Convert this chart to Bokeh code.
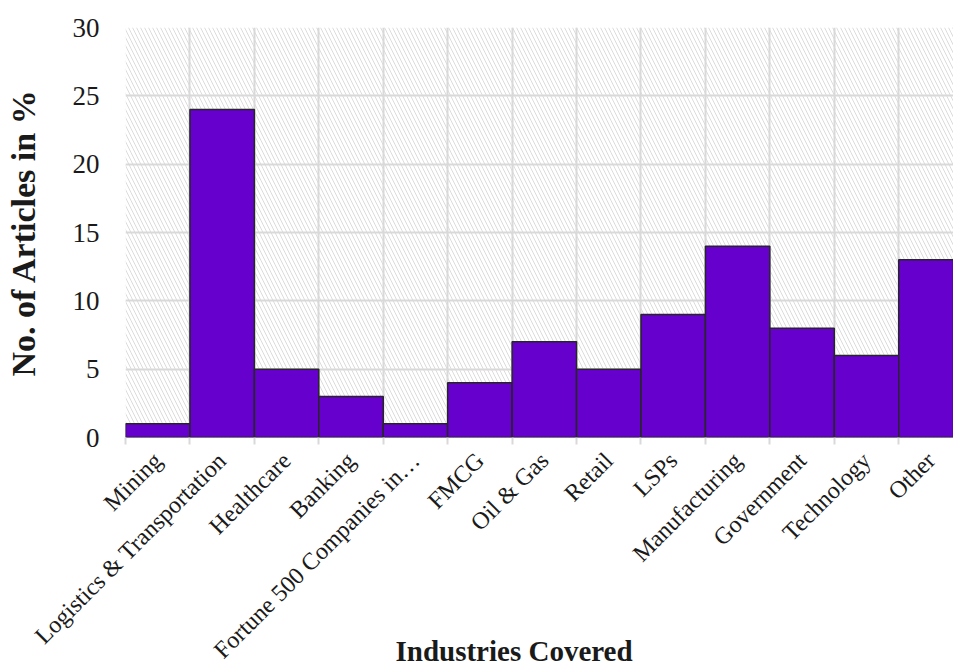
import math
from bokeh.plotting import figure
from bokeh.models import Range1d, FixedTicker, BoxAnnotation, ColumnDataSource, Title
from bokeh.embed import file_html
from bokeh.resources import INLINE

categories = ["Mining", "Logistics & Transportation", "Healthcare", "Banking",
              "Fortune 500 Companies in\u2026", "FMCG", "Oil & Gas", "Retail", "LSPs",
              "Manufacturing", "Government", "Technology", "Other"]
values = [1, 24, 5, 3, 1, 4, 7, 5, 9, 14, 8, 6, 13]
y_ticks = [0, 5, 10, 15, 20, 25, 30]

n = len(categories)
centers = [i + 0.5 for i in range(n)]
bounds = list(range(n + 1))

FONT = "Liberation Serif"

p = figure(width=953, height=666, output_backend="svg", toolbar_location=None,
           x_range=Range1d(0, 12.85), y_range=Range1d(0, 30),
           min_border_left=125, min_border_right=0, min_border_top=27,
           min_border_bottom=228)
p.outline_line_color = None
p.background_fill_color = "white"

bg = BoxAnnotation(fill_alpha=0, line_alpha=0, hatch_pattern="\\",
                   hatch_color="#dcdcdc", hatch_scale=8, hatch_weight=1,
                   level="image")
p.add_layout(bg)

src = ColumnDataSource(dict(x=centers, top=values))
p.vbar(x="x", top="top", width=1, source=src, fill_color="#6600cc",
       line_color="#262626", line_width=1.5)

# grids
p.xgrid.ticker = FixedTicker(ticks=bounds)
p.ygrid.ticker = FixedTicker(ticks=y_ticks)
for g in (p.xgrid, p.ygrid):
    g.grid_line_color = "#d9d9d9"
    g.grid_line_width = 2

# x axis
xa = p.xaxis[0]
xa.ticker = FixedTicker(ticks=centers, minor_ticks=bounds)
xa.major_label_overrides = {c: lab for c, lab in zip(centers, categories)}
xa.major_label_orientation = math.pi / 4
xa.major_tick_line_color = None
xa.minor_tick_in = 0
xa.minor_tick_out = 7
xa.minor_tick_line_color = "#d9d9d9"
xa.minor_tick_line_width = 2
xa.axis_line_color = None
xa.major_label_text_font = FONT
xa.major_label_text_font_size = "24px"
xa.major_label_text_color = "#1a1a1a"
xa.major_label_standoff = 12
xa.axis_label = " "
xa.axis_label_text_font_size = "20px"
xa.axis_label_standoff = -68

xtitle = Title(text="Industries Covered", align="left", offset=270, standoff=0,
               text_font=FONT, text_font_size="29px", text_font_style="bold",
               text_color="#1a1a1a")
p.add_layout(xtitle, "below")

# y axis
ya = p.yaxis[0]
ya.ticker = FixedTicker(ticks=y_ticks)
ya.major_tick_line_color = None
ya.minor_tick_line_color = None
ya.axis_line_color = None
ya.major_label_text_font = FONT
ya.major_label_text_font_size = "27px"
ya.major_label_text_color = "#1a1a1a"
ya.major_label_standoff = 20
ya.axis_label = "No. of Articles in %"
ya.axis_label_text_font = FONT
ya.axis_label_text_font_size = "34px"
ya.axis_label_text_font_style = "bold"
ya.axis_label_text_color = "#1a1a1a"
ya.axis_label_standoff = 28

open("out.html", "w").write(file_html(p, INLINE))
